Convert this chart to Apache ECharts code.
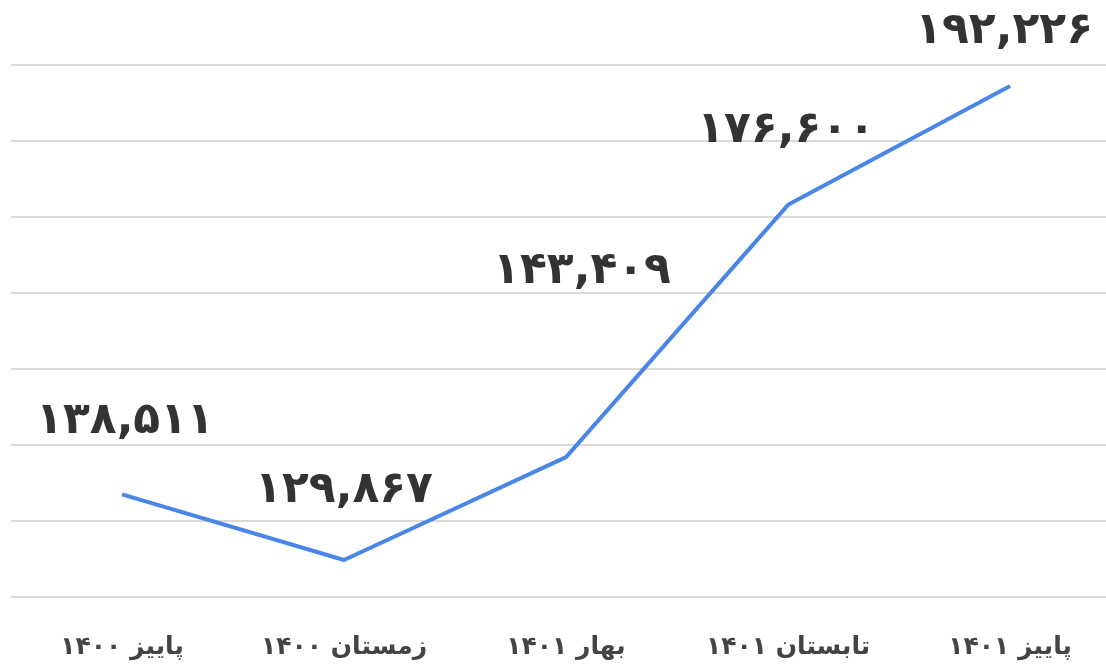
<!DOCTYPE html>
<html>
<head>
<meta charset="utf-8">
<style>html,body{margin:0;padding:0;background:#fff;}#chart{width:1106px;height:668px;}</style>
<script src="https://cdn.jsdelivr.net/npm/echarts@6/dist/echarts.min.js"></script>
</head>
<body>
<div id="chart"></div>
<script>
const categories = ['پاییز ۱۴۰۰', 'زمستان ۱۴۰۰', 'بهار ۱۴۰۱', 'تابستان ۱۴۰۱', 'پاییز ۱۴۰۱'];
const values = [138511, 129867, 143409, 176600, 192226];
const yMin = 125000;
const yMax = 195000;
const yStep = 5000;

function toPersian(n) {
  const d = '۰۱۲۳۴۵۶۷۸۹';
  return n.toLocaleString('en-US').replace(/[0-9]/g, c => d[+c]);
}

// label placement tweaks (pixels), applied in option building
const labelOffsets = [[3, -73], [0, -69], [16, -186], [-2, -74], [-6, -55]];

const chart = echarts.init(document.getElementById('chart'));
chart.setOption({
  animation: false,
  grid: { left: 11, right: 0, top: 65, bottom: 71, containLabel: false },
  xAxis: {
    type: 'value',
    min: -0.5,
    max: 4.432,
    interval: 0.5,
    axisLine: { show: false },
    axisTick: { show: false },
    splitLine: { show: false },
    axisLabel: {
      margin: 38,
      color: '#444',
      fontSize: 25,
      fontWeight: 'bold',
      fontFamily: 'DejaVu Sans',
      showMinLabel: false,
      showMaxLabel: false,
      formatter: v => (Number.isInteger(v) && categories[v] !== undefined) ? categories[v] : ''
    }
  },
  yAxis: {
    type: 'value',
    min: yMin,
    max: yMax,
    interval: yStep,
    axisLabel: { show: false },
    axisLine: { show: false },
    axisTick: { show: false },
    splitLine: { lineStyle: { color: ['#d9d9d9', 'rgba(0,0,0,0)'], width: 2 } }
  },
  series: [{
    type: 'line',
    data: values.map((v, i) => ({
      value: [i, v],
      label: { offset: labelOffsets[i] }
    })),
    showSymbol: true,
    symbol: 'circle',
    symbolSize: 0,
    lineStyle: { color: '#4a86e8', width: 4 },
    itemStyle: { color: '#4a86e8' },
    label: {
      show: true,
      position: 'inside',
      align: 'center',
      verticalAlign: 'middle',
      formatter: p => toPersian(p.value[1]),
      color: '#333',
      fontSize: 44,
      fontWeight: 'bold',
      fontFamily: 'DejaVu Sans'
    }
  }]
});
</script>
</body>
</html>
